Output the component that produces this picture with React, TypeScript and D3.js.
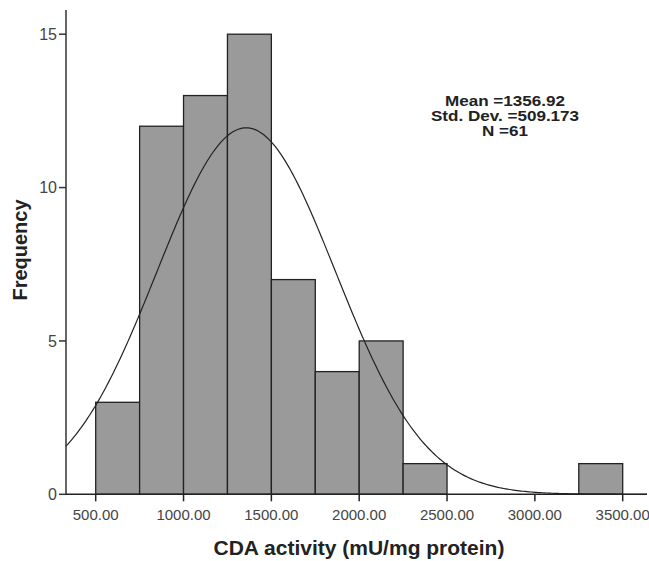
import React from "react";
import * as d3 from "d3";

const binStarts = [500, 750, 1000, 1250, 1500, 1750, 2000, 2250, 3250];
const binWidth = 250;
const frequencies = [3, 12, 13, 15, 7, 4, 5, 1, 1];
const xTicks = [500, 1000, 1500, 2000, 2500, 3000, 3500];
const yTicks = [0, 5, 10, 15];
const mean = 1356.92;
const sd = 509.173;
const n = 61;
const statLines = ["Mean =1356.92", "Std. Dev. =509.173", "N =61"];

const W = 649;
const H = 561;
const x0 = 66;
const x1 = 647;
const yBase = 494.3;
const yTopAxis = 10;

export default function App() {
  const x = d3.scaleLinear().domain([500, 3500]).range([95.7, 622.7]);
  const y = d3.scaleLinear().domain([0, 15]).range([yBase, 34.2]);
  const vMin = x.invert(x0);
  const vMax = x.invert(x1);
  const pts = d3.range(0, 301).map((i) => {
    const v = vMin + ((vMax - vMin) * i) / 300;
    const z = (v - mean) / sd;
    const f = (n * binWidth) / (sd * Math.sqrt(2 * Math.PI)) * Math.exp(-0.5 * z * z);
    return [x(v), y(f)] as [number, number];
  });
  const line = d3.line()(pts) || "";
  const font = "Arial, 'Liberation Sans', sans-serif";
  return (
    <svg width={W} height={H} style={{ display: "block", position: "absolute", left: 0, top: 0 }}>
      <rect width={W} height={H} fill="#fff" />
      {binStarts.map((b, i) => (
        <rect
          key={i}
          x={x(b)}
          y={y(frequencies[i])}
          width={x(b + binWidth) - x(b)}
          height={yBase - y(frequencies[i])}
          fill="#9a9a9a"
          stroke="#222"
          strokeWidth={1.3}
        />
      ))}
      <path d={line} fill="none" stroke="#222" strokeWidth={1.2} />
      <line x1={x0} x2={x0} y1={yTopAxis} y2={yBase} stroke="#333" strokeWidth={1.5} />
      <line x1={x0} x2={x1} y1={yBase} y2={yBase} stroke="#222" strokeWidth={1.5} />
      {yTicks.map((t) => (
        <g key={t}>
          <line x1={x0 - 7} x2={x0} y1={y(t)} y2={y(t)} stroke="#333" strokeWidth={1.5} />
          <text x={x0 - 9} y={y(t)} dy="0.36em" textAnchor="end" fontFamily={font} fontSize={16} fill="#444">
            {t}
          </text>
        </g>
      ))}
      {xTicks.map((t) => (
        <g key={t}>
          <line x1={x(t)} x2={x(t)} y1={yBase} y2={yBase + 7} stroke="#222" strokeWidth={1.5} />
          <text x={x(t)} y={520} textAnchor="middle" fontFamily={font} fontSize={15} fill="#444">
            {d3.format(".2f")(t)}
          </text>
        </g>
      ))}
      <text
        transform="translate(27,250) rotate(-90)"
        textAnchor="middle"
        fontFamily={font}
        fontSize={20}
        fontWeight="bold"
        fill="#222"
      >
        Frequency
      </text>
      <text x={359} y={555} textAnchor="middle" fontFamily={font} fontSize={21} fontWeight="bold" fill="#222">
        CDA activity (mU/mg protein)
      </text>
      <g transform="translate(505,0) scale(1.22,1)">
        {statLines.map((s, i) => (
          <text
            key={i}
            x={0}
            y={106 + i * 15}
            textAnchor="middle"
            fontFamily={font}
            fontSize={14}
            fontWeight="bold"
            fill="#222"
          >
            {s}
          </text>
        ))}
      </g>
    </svg>
  );
}
